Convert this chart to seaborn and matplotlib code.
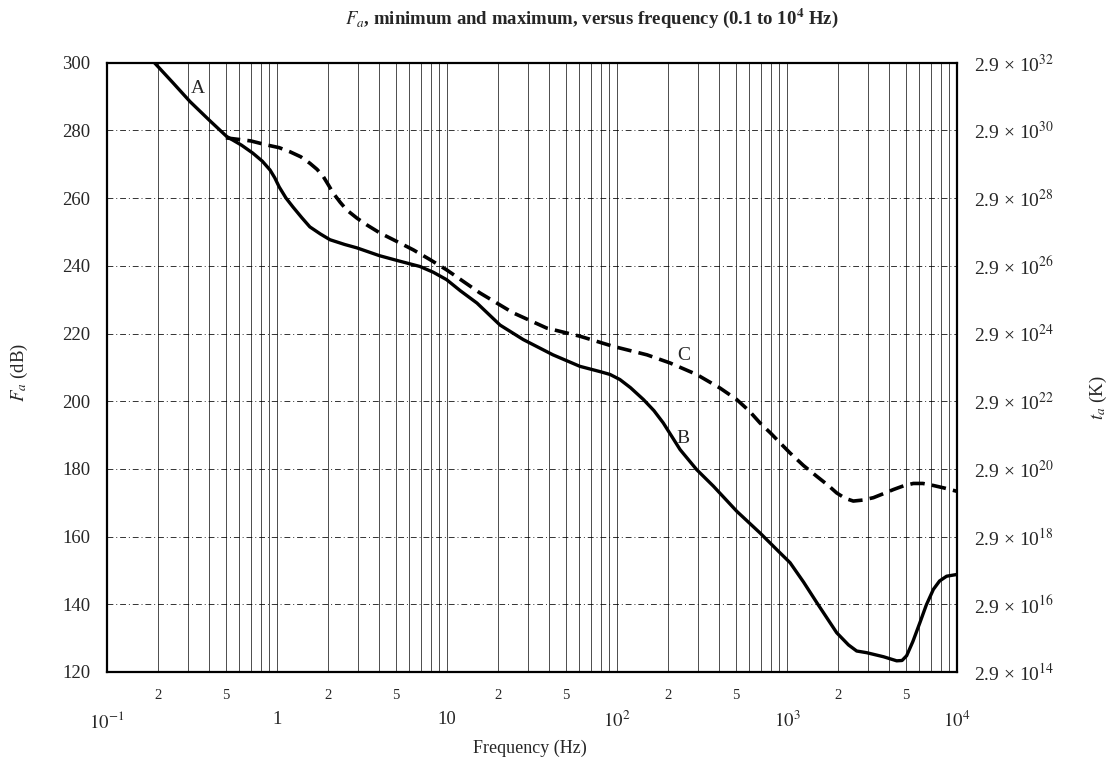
import matplotlib
matplotlib.use("Agg")
import matplotlib.pyplot as plt
import matplotlib.ticker as mticker
import numpy as np
import pandas as pd
import seaborn as sns

# ---- data ----
freq_min = [0.19, 0.245, 0.308, 0.40, 0.506, 0.62, 0.72, 0.82, 0.91, 0.97, 1.03, 1.13, 1.24,
            1.4, 1.56, 1.8, 2.05, 2.5, 2.95, 4.0, 5.15, 6.93, 8.3, 9.95, 12, 15, 20.5,
            28.1, 42, 60.5, 80, 91, 104, 120, 143, 165, 187, 210, 235, 294, 369, 506,
            693, 910, 1042, 1250, 1497, 1960, 2300, 2570, 2945, 3700, 4418, 4750, 5055,
            5500, 6053, 6600, 7260, 7900, 8690, 9950]
fa_min = [300, 294, 288.5, 283, 278.2, 275.6, 273.3, 270.9, 268.3, 266.0, 263.3, 260.0, 257.4,
          254.2, 251.5, 249.4, 247.7, 246.3, 245.3, 243.0, 241.5, 239.8, 238.1, 235.9,
          232.6, 229.0, 222.5, 218.2, 213.7, 210.3, 208.7, 207.9, 206.4, 204.0, 200.5,
          197.2, 193.6, 189.6, 185.7, 179.8, 174.9, 167.5, 161.1, 155.2, 152.3, 146.6,
          140.5, 131.6, 128.0, 126.2, 125.7, 124.5, 123.3, 123.4, 124.8, 129.0, 134.6,
          139.8, 144.4, 146.9, 148.3, 148.8]

freq_max = [0.5, 0.7, 0.87, 1.03, 1.19, 1.38, 1.56, 1.72, 1.87, 2.0, 2.14, 2.35, 2.57,
            2.95, 3.37, 4.03, 5.3, 6.34, 7.9, 9.95, 15.6, 24.5, 38.6, 60.5, 95, 150, 205,
            294, 403, 506, 600, 693, 800, 910, 1042, 1250, 1497, 1750, 1960, 2200, 2455,
            2800, 3223, 3700, 4226, 4850, 5537, 6300, 7260, 8500, 9950]
fa_max = [277.8, 276.9, 275.7, 274.9, 273.7, 272.2, 270.3, 268.5, 266.4, 264.0, 261.5,
          258.8, 256.5, 254.1, 252.1, 249.7, 246.7, 244.7, 241.9, 238.8, 232.0, 226.1,
          221.6, 219.2, 216.2, 213.7, 211.3, 207.9, 203.9, 200.5, 197.1, 193.6, 190.6,
          187.7, 184.7, 181.0, 177.8, 175.1, 172.9, 171.3, 170.5, 170.8, 171.5, 172.7,
          173.9, 175.0, 175.7, 175.7, 175.1, 174.3, 173.4]

y_ticks = [120, 140, 160, 180, 200, 220, 240, 260, 280, 300]
x_decades = [0.1, 1, 10, 100, 1000, 10000]
x_decade_labels = [r"$10^{-1}$", "1", "10", r"$10^{2}$", r"$10^{3}$", r"$10^{4}$"]
right_exponents = [14, 16, 18, 20, 22, 24, 26, 28, 30, 32]

sns.set_theme(style="white")
plt.rcParams["font.family"] = ["Liberation Serif", "DejaVu Serif"]
plt.rcParams["mathtext.fontset"] = "stix"

fig = plt.figure(figsize=(11.12, 7.61), dpi=100)
ax = fig.add_axes([107/1112, 1 - 672/761, (957-107)/1112, (672-62.7)/761])

df_min = pd.DataFrame({"f": freq_min, "Fa": fa_min})
df_max = pd.DataFrame({"f": freq_max, "Fa": fa_max})

ax.set_xscale("log")
ax.set_xlim(0.1, 10000)
ax.set_ylim(120, 300)

# grid
for dec in [0.1, 1, 10, 100, 1000]:
    for m in range(1, 10):
        xv = dec * m
        if 0.1 < xv < 10000:
            ax.axvline(xv, color="black", lw=0.7, alpha=0.7, zorder=1)
for yv in y_ticks[1:-1]:
    ax.axhline(yv, color="black", lw=0.7, ls=(0, (6, 3, 1, 3)), alpha=0.8, zorder=1)

sns.lineplot(data=df_min, x="f", y="Fa", ax=ax, color="black", lw=2.4,
             estimator=None, sort=False, zorder=3)
sns.lineplot(data=df_max, x="f", y="Fa", ax=ax, color="black", lw=2.6,
             estimator=None, sort=False, zorder=3, dashes=False)
ax.lines[-1].set_linestyle((0, (4, 2)))
for ln in ax.lines[-2:]:
    ln.set_solid_joinstyle("round")
    ln.set_dash_joinstyle("round")

for s in ax.spines.values():
    s.set_color("black")
    s.set_linewidth(1.6)

ax.set_yticks(y_ticks)
ax.set_yticklabels([str(v) for v in y_ticks], fontsize=13.5)
ax.tick_params(axis="y", length=0, pad=12)

ax.xaxis.set_major_locator(mticker.FixedLocator(x_decades))
ax.xaxis.set_major_formatter(mticker.FixedFormatter(x_decade_labels))
minor_pos = []
minor_lab = []
for dec in [0.1, 1, 10, 100, 1000]:
    for m in [2, 5]:
        minor_pos.append(dec * m)
        minor_lab.append(str(m))
ax.xaxis.set_minor_locator(mticker.FixedLocator(minor_pos))
ax.xaxis.set_minor_formatter(mticker.FixedFormatter(minor_lab))
ax.tick_params(axis="x", which="major", length=0, pad=28, labelsize=13.5)
ax.tick_params(axis="x", which="minor", length=0, pad=12, labelsize=10.5)

ax.set_xlabel("")
ax.set_ylabel("")
fig.text(530/1112, 1 - 748/761, "Frequency (Hz)", fontsize=13,
         ha="center", va="center")
fig.text(19/1112, 1 - 372/761, r"$F_a$ (dB)", rotation=90, fontsize=13.5,
         ha="center", va="center")

ax2 = ax.twinx()
ax2.set_ylim(120, 300)
ax2.set_yticks(y_ticks)
ax2.set_yticklabels(["2.9 \u00d7 10$^{%d}$" % e for e in right_exponents], fontsize=14)
ax2.tick_params(axis="y", length=0, pad=12)
for s in ax2.spines.values():
    s.set_visible(False)
ax2.grid(False)
fig.text(1098/1112, 1 - 398/761, r"$t_a$ (K)", rotation=90, fontsize=13.5,
         ha="center", va="center")

ax.text(0.31, 290, "A", fontsize=14, ha="left", va="bottom", zorder=4)
ax.text(225, 211, "C", fontsize=14, ha="left", va="bottom", zorder=4)
ax.text(225, 186.5, "B", fontsize=14, ha="left", va="bottom", zorder=4)

fig.text(592/1112, 1 - 18/761,
         r"$\boldsymbol{F_a}$, minimum and maximum, versus frequency (0.1 to 10$^{\mathbf{4}}$ Hz)",
         fontsize=13.5, fontweight="bold", ha="center", va="center")

fig.savefig("out.png", dpi=100, facecolor="white")
